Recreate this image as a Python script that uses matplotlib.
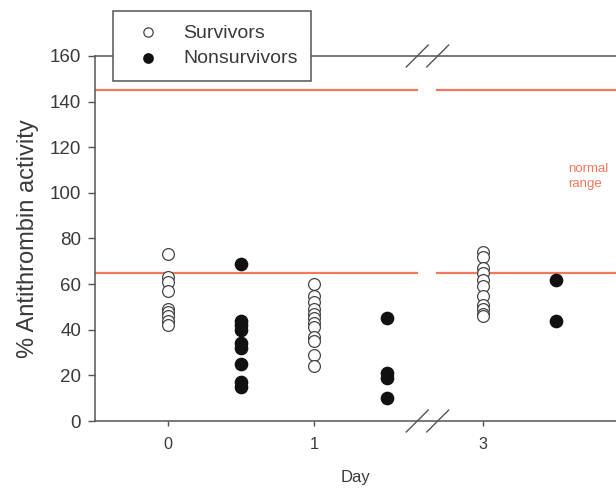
import matplotlib
matplotlib.use("Agg")
import matplotlib.pyplot as plt
import matplotlib.transforms as mtransforms

plt.rcParams['font.family'] = ['Liberation Sans', 'DejaVu Sans']

# values
day_labels = ['0', '1', '3']
day_pos = [0, 1, 2.16]   # day 3 sits after the axis break
survivors = [
    [73, 63, 61, 57, 49, 48, 46, 44, 42],
    [60, 55, 52, 49, 47, 45, 43, 41, 37, 35, 29, 24],
    [74, 72, 67, 65, 62, 59, 55, 51, 49, 47, 46],
]
nonsurvivors = [
    [69, 44, 42, 40, 34, 32, 25, 17, 15],
    [45, 21, 19, 10],
    [62, 44],
]
normal_low = 65
normal_high = 145
gap = (1.705, 1.842)

grey = '#555555'
txt = '#3a3a3a'
orange = '#f4795a'

fig = plt.figure(figsize=(6.16, 4.88), dpi=100)
ax = fig.add_axes([95 / 616, 67 / 488, 1 - 95 / 616, 365 / 488])

xmin, xmax = -0.5, 3.068
ax.set_xlim(xmin, xmax)
ax.set_ylim(0, 160)

# normal range lines with a gap at the break
for yv in (normal_low, normal_high):
    ax.plot([xmin, gap[0]], [yv, yv], color=orange, lw=1.6, zorder=1)
    ax.plot([gap[1], xmax], [yv, yv], color=orange, lw=1.6, zorder=1)
ax.text(2.74, 113, 'normal\nrange', color=orange, fontsize=9.5, va='top',
        ha='left', linespacing=1.3)

for p, s, n in zip(day_pos, survivors, nonsurvivors):
    ax.scatter([p] * len(s), s, s=72, facecolors='white', edgecolors='#444444',
               linewidths=0.9, zorder=3)
    ax.scatter([p + 0.5] * len(n), n, s=78, color='#111111', zorder=3)

for side in ('left', 'bottom', 'top'):
    ax.spines[side].set_color(grey)
    ax.spines[side].set_linewidth(1.1)
ax.spines['right'].set_visible(False)

ax.set_yticks(range(0, 161, 20))
ax.set_xticks(day_pos)
ax.set_xticklabels(day_labels)
ax.tick_params(axis='y', direction='out', length=5, width=1, color=grey,
               labelsize=13.5, labelcolor=txt, pad=5)
ax.tick_params(axis='x', direction='out', length=3.5, width=1, color=grey,
               labelsize=11.7, labelcolor=txt, pad=8)

ax.set_ylabel('% Antithrombin activity', fontsize=17, color=txt, labelpad=8)
ax.set_xlabel('Day', fontsize=12, color=txt, labelpad=13)

# break marks on top and bottom spines
trans = mtransforms.blended_transform_factory(ax.transData, ax.transAxes)
bc = 1.777
for yb in (0, 1):
    for dx in (-0.07, 0.07):
        ax.plot([bc + dx - 0.075, bc + dx + 0.075], [yb - 0.03, yb + 0.03],
                color=grey, lw=1, transform=trans, clip_on=False, zorder=4)

h1 = ax.scatter([], [], s=45, facecolors='white', edgecolors='#444444', linewidths=0.9)
h2 = ax.scatter([], [], s=45, color='#111111')
leg = fig.legend([h1, h2], ['Survivors', 'Nonsurvivors'], loc='upper left',
                 bbox_to_anchor=(112.7 / 616, 1 - 10.7 / 488), borderaxespad=0,
                 fancybox=False, framealpha=1, edgecolor=grey, fontsize=14,
                 labelspacing=0.42, handletextpad=0.63, borderpad=0.68,
                 handlelength=2.3)
leg.get_frame().set_linewidth(1.1)
for t in leg.get_texts():
    t.set_color(txt)

fig.savefig('out.png', dpi=100)
